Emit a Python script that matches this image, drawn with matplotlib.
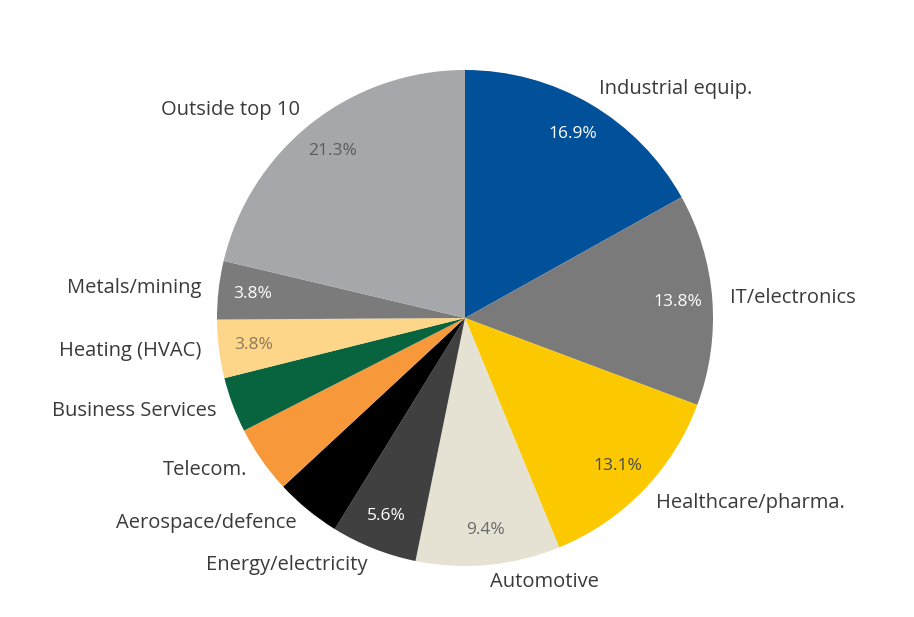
import matplotlib.pyplot as plt

# Share of companies by sector (percent), clockwise from 12 o'clock
sectors = [
    "Industrial equip.", "IT/electronics", "Healthcare/pharma.", "Automotive",
    "Energy/electricity", "Aerospace/defence", "Telecom.", "Business Services",
    "Heating (HVAC)", "Metals/mining", "Outside top 10",
]
shares = [16.9, 13.8, 13.1, 9.4, 5.6, 4.3, 4.4, 3.6, 3.8, 3.8, 21.3]
show_pct = [True, True, True, True, True, False, False, False, True, True, True]

colors = [
    "#00509a", "#7a7a7a", "#fcc800", "#e6e2d3", "#404040", "#000000",
    "#f7993a", "#08633f", "#fdd68a", "#7b7b7b", "#a6a7aa",
]
pct_colors = [
    "#ffffff", "#ffffff", "#4a4a4a", "#6a6a6a", "#ffffff", "#ffffff",
    "#ffffff", "#ffffff", "#8a7a58", "#ffffff", "#5c5c5c",
]

plt.rcParams["font.family"] = ["Open Sans", "DejaVu Sans"]

fig = plt.figure(figsize=(9.14, 6.17), dpi=100)
ax = fig.add_axes([0, 0, 1, 1])

pct_iter = iter(range(len(shares)))


def fmt_pct(p):
    i = next(pct_iter)
    return f"{shares[i]:.1f}%" if show_pct[i] else ""


wedges, texts, autotexts = ax.pie(
    shares, labels=sectors, colors=colors, startangle=90, counterclock=False,
    autopct=fmt_pct, pctdistance=0.86, labeldistance=1.07,
    wedgeprops=dict(linewidth=0), textprops=dict(fontsize=14.5, color="#3a3a3a"),
)
for t, c in zip(autotexts, pct_colors):
    t.set_color(c)
    t.set_fontsize(12.5)

# radius 1 -> ~248 px, centre at (465, 318) px from top-left
r_px = 248.0
ax.set_xlim(-465 / r_px, (914 - 465) / r_px)
ax.set_ylim(-299 / r_px, 318 / r_px)
ax.set_aspect("equal", adjustable="box")
ax.axis("off")

fig.savefig("out.png", dpi=100)
